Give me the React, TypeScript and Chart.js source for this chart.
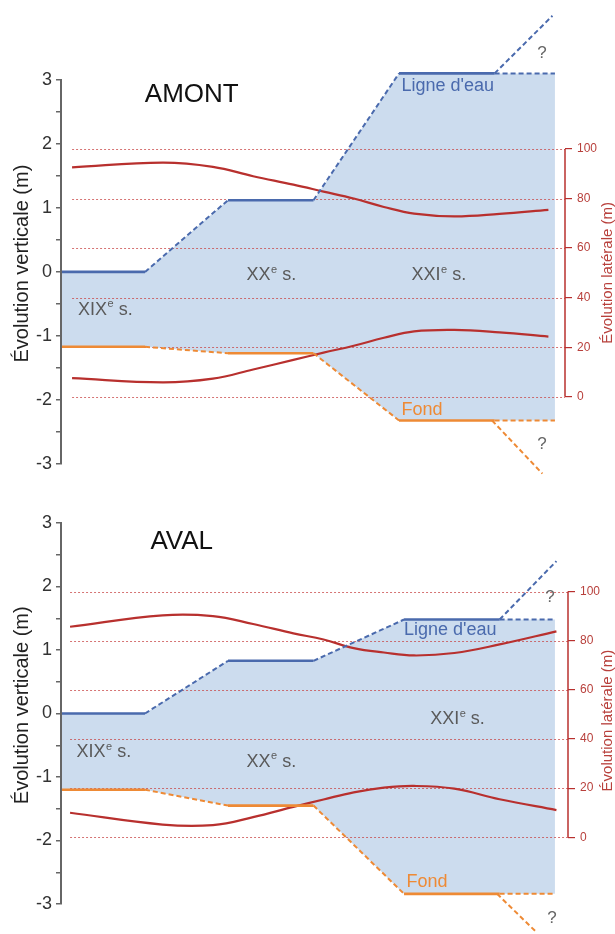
import React, { useEffect, useRef } from 'react';
import { Chart, registerables } from 'chart.js';

Chart.register(...registerables);

// ---------- AMONT ----------
const AMONT_STEP_X = [0, 16.5, 33, 50, 67, 86, 98];
const AMONT_EAU = [0, 0, 1.12, 1.12, 3.1, 3.1, 3.1];
const AMONT_FOND = [-1.17, -1.17, -1.27, -1.27, -2.32, -2.32, -2.32];
const AMONT_EAU_FUTUR_X = [86, 97.5];
const AMONT_EAU_FUTUR = [3.1, 4.0];
const AMONT_FOND_FUTUR_X = [85.5, 95.5];
const AMONT_FOND_FUTUR = [-2.32, -3.15];
const AMONT_RIVE_X = [2, 20, 30, 38, 46, 52, 58, 64, 70, 78, 87, 96.7];
const AMONT_RIVE_HAUT = [92.6, 94.5, 92.8, 89.0, 85.6, 82.8, 80.0, 76.6, 73.9, 72.8, 73.8, 75.4];
const AMONT_RIVE_BAS = [7.5, 5.8, 7.3, 11.0, 14.9, 17.8, 20.6, 23.8, 26.4, 27.0, 26.0, 24.3];

// ---------- AVAL ----------
const AVAL_STEP_X = [0, 16.5, 33, 50, 68, 87, 98];
const AVAL_EAU = [0, 0, 0.83, 0.83, 1.48, 1.48, 1.48];
const AVAL_FOND = [-1.2, -1.2, -1.45, -1.45, -2.84, -2.84, -2.84];
const AVAL_EAU_FUTUR_X = [87, 98.3];
const AVAL_EAU_FUTUR = [1.48, 2.4];
const AVAL_FOND_FUTUR_X = [86.5, 94.4];
const AVAL_FOND_FUTUR = [-2.84, -3.45];
const AVAL_RIVE_X = [1.6, 20, 30, 38, 46, 52, 58, 64, 70, 78, 87, 98.3];
const AVAL_RIVE_HAUT = [85.7, 90.3, 90.0, 86.8, 83.0, 80.5, 77.0, 75.2, 74.0, 75.0, 78.5, 83.8];
const AVAL_RIVE_BAS = [10.0, 5.2, 5.0, 8.2, 12.4, 15.4, 18.3, 20.2, 20.9, 19.8, 15.5, 11.1];

// ---------- axes ----------
const LEFT_TICKS = [-3, -2.5, -2, -1.5, -1, -0.5, 0, 0.5, 1, 1.5, 2, 2.5, 3];
const RIGHT_TICKS = [0, 20, 40, 60, 80, 100];
// right-axis values 0 and 100 sit at these left-axis heights (m)
const RIGHT_ZERO_AT = -1.95;
const RIGHT_HUNDRED_AT = 1.92;

const LEFT_TITLE = 'Évolution verticale (m)';
const RIGHT_TITLE = 'Évolution latérale (m)';

const FONT = "'Liberation Sans', Arial, sans-serif";
const BLUE = '#4a6aad';
const ORANGE = '#ee8a35';
const FILL = '#ccdcee';
const RED = '#b8302e';
const RED_TXT = '#b8403c';
const GRID = 'rgba(200, 70, 70, 0.75)';
const TXT = '#5a5a5a';
const AXIS = '#666666';

type Lbl = {
  t: string;
  sup?: string;
  rest?: string;
  x: number;
  y: number;
  color: string;
  size: number;
  align?: 'left' | 'center';
};

const AMONT_LABELS: Lbl[] = [
  { t: 'AMONT', x: 25.8, y: 2.77, color: '#111', size: 26, align: 'center' },
  { t: 'XIX', sup: 'e', rest: ' s.', x: 3.2, y: -0.59, color: TXT, size: 18 },
  { t: 'XX', sup: 'e', rest: ' s.', x: 36.7, y: -0.05, color: TXT, size: 18 },
  { t: 'XXI', sup: 'e', rest: ' s.', x: 69.5, y: -0.05, color: TXT, size: 18 },
  { t: "Ligne d'eau", x: 67.5, y: 2.9, color: BLUE, size: 18 },
  { t: 'Fond', x: 67.5, y: -2.15, color: ORANGE, size: 18 },
  { t: '?', x: 95.4, y: 3.42, color: '#666', size: 17, align: 'center' },
  { t: '?', x: 95.4, y: -2.7, color: '#666', size: 17, align: 'center' },
];

const AVAL_LABELS: Lbl[] = [
  { t: 'AVAL', x: 23.8, y: 2.71, color: '#111', size: 26, align: 'center' },
  { t: 'XIX', sup: 'e', rest: ' s.', x: 2.9, y: -0.61, color: TXT, size: 18 },
  { t: 'XX', sup: 'e', rest: ' s.', x: 36.7, y: -0.76, color: TXT, size: 18 },
  { t: 'XXI', sup: 'e', rest: ' s.', x: 73.2, y: -0.09, color: TXT, size: 18 },
  { t: "Ligne d'eau", x: 68, y: 1.31, color: BLUE, size: 18 },
  { t: 'Fond', x: 68.5, y: -2.65, color: ORANGE, size: 18 },
  { t: '?', x: 97, y: 1.83, color: '#666', size: 17, align: 'center' },
  { t: '?', x: 97.4, y: -3.23, color: '#666', size: 17, align: 'center' },
];

type Panel = {
  stepX: number[];
  eau: number[];
  fond: number[];
  eauFX: number[];
  eauF: number[];
  fondFX: number[];
  fondF: number[];
  riveX: number[];
  riveHaut: number[];
  riveBas: number[];
  labels: Lbl[];
  xMax: number;
  yMin: number;
  yMax: number;
  padTop: number;
  padBottom: number;
  rightWidth: number;
  rightTitleAt: number;
};

const AMONT: Panel = {
  stepX: AMONT_STEP_X, eau: AMONT_EAU, fond: AMONT_FOND,
  eauFX: AMONT_EAU_FUTUR_X, eauF: AMONT_EAU_FUTUR,
  fondFX: AMONT_FOND_FUTUR_X, fondF: AMONT_FOND_FUTUR,
  riveX: AMONT_RIVE_X, riveHaut: AMONT_RIVE_HAUT, riveBas: AMONT_RIVE_BAS,
  labels: AMONT_LABELS, xMax: 100, yMin: -3, yMax: 3.2, padTop: 67, padBottom: 26, rightWidth: 50, rightTitleAt: 50,
};

const AVAL: Panel = {
  stepX: AVAL_STEP_X, eau: AVAL_EAU, fond: AVAL_FOND,
  eauFX: AVAL_EAU_FUTUR_X, eauF: AVAL_EAU_FUTUR,
  fondFX: AVAL_FOND_FUTUR_X, fondF: AVAL_FOND_FUTUR,
  riveX: AVAL_RIVE_X, riveHaut: AVAL_RIVE_HAUT, riveBas: AVAL_RIVE_BAS,
  labels: AVAL_LABELS, xMax: 100.6, yMin: -3, yMax: 3, padTop: 56, padBottom: 30, rightWidth: 47, rightTitleAt: 47.5,
};

const pts = (xs: number[], ys: number[]) => xs.map((x, i) => ({ x, y: ys[i] }));

const toRight = (leftVal: number) =>
  ((leftVal - RIGHT_ZERO_AT) / (RIGHT_HUNDRED_AT - RIGHT_ZERO_AT)) * 100;

const stepSegment = {
  borderDash: (c: any) => (c.p0DataIndex % 2 === 1 ? [5, 3] : undefined),
  borderWidth: (c: any) => (c.p0DataIndex % 2 === 1 ? 2 : 2.6),
};

function decor(p: Panel) {
  return {
    id: 'decor',
    beforeDatasetsDraw(chart: any) {
      const { ctx, chartArea } = chart;
      const xs = chart.scales.x;
      const y1 = chart.scales.y1;
      ctx.save();
      ctx.strokeStyle = GRID;
      ctx.lineWidth = 1;
      ctx.setLineDash([2, 2]);
      const x0 = xs.getPixelForValue(p.riveX[0]);
      for (const v of RIGHT_TICKS) {
        const py = Math.round(y1.getPixelForValue(v)) + 0.5;
        ctx.beginPath();
        ctx.moveTo(x0, py);
        ctx.lineTo(chartArea.right, py);
        ctx.stroke();
      }
      ctx.restore();
    },
    afterDatasetsDraw(chart: any) {
      const { ctx } = chart;
      const xs = chart.scales.x;
      const ys = chart.scales.y;
      ctx.save();
      ctx.textBaseline = 'middle';
      for (const l of p.labels) {
        ctx.fillStyle = l.color;
        ctx.font = `${l.size}px ${FONT}`;
        let px = xs.getPixelForValue(l.x);
        const py = ys.getPixelForValue(l.y);
        ctx.textAlign = l.align === 'center' ? 'center' : 'left';
        ctx.fillText(l.t, px, py);
        if (l.sup) {
          ctx.textAlign = 'left';
          px += ctx.measureText(l.t).width + 0.5;
          const ss = Math.round(l.size * 0.6);
          ctx.font = `${ss}px ${FONT}`;
          ctx.fillText(l.sup, px, py - l.size * 0.3);
          px += ctx.measureText(l.sup).width;
          ctx.font = `${l.size}px ${FONT}`;
          ctx.fillText(l.rest || '', px, py);
        }
      }
      ctx.restore();
    },
    afterDraw(chart: any) {
      const { ctx, chartArea } = chart;
      const ys = chart.scales.y;
      const y1 = chart.scales.y1;
      ctx.save();
      // left axis line (-3..3 only)
      ctx.strokeStyle = AXIS;
      ctx.lineWidth = 2;
      ctx.beginPath();
      ctx.moveTo(chartArea.left - 1, ys.getPixelForValue(LEFT_TICKS[0]));
      ctx.lineTo(chartArea.left - 1, ys.getPixelForValue(LEFT_TICKS[LEFT_TICKS.length - 1]));
      ctx.stroke();
      // right axis line (0..100 only)
      ctx.strokeStyle = RED;
      ctx.lineWidth = 1.5;
      ctx.beginPath();
      ctx.moveTo(chartArea.right, y1.getPixelForValue(RIGHT_TICKS[0]));
      ctx.lineTo(chartArea.right, y1.getPixelForValue(RIGHT_TICKS[RIGHT_TICKS.length - 1]));
      ctx.stroke();
      // titles
      ctx.textAlign = 'center';
      ctx.textBaseline = 'middle';
      ctx.fillStyle = '#222';
      ctx.font = `20px ${FONT}`;
      ctx.translate(22, ys.getPixelForValue(0.13));
      ctx.rotate(-Math.PI / 2);
      ctx.fillText(LEFT_TITLE, 0, 0);
      ctx.restore();
      ctx.save();
      ctx.textAlign = 'center';
      ctx.textBaseline = 'middle';
      ctx.fillStyle = RED_TXT;
      ctx.font = `15px ${FONT}`;
      ctx.translate(607.5, y1.getPixelForValue(p.rightTitleAt));
      ctx.rotate(-Math.PI / 2);
      ctx.fillText(RIGHT_TITLE, 0, 0);
      ctx.restore();
    },
  };
}

function buildConfig(p: Panel): any {
  return {
    type: 'line',
    data: {
      datasets: [
        // invisible boundaries for the blue fill
        {
          data: pts(p.stepX, p.eau),
          borderWidth: 0,
          borderColor: 'rgba(0,0,0,0)',
          backgroundColor: FILL,
          fill: '+1',
          pointRadius: 0,
          order: 10,
        },
        {
          data: pts(p.stepX, p.fond),
          borderWidth: 0,
          borderColor: 'rgba(0,0,0,0)',
          pointRadius: 0,
          fill: false,
          order: 11,
        },
        {
          data: pts(p.stepX, p.eau),
          borderColor: BLUE,
          pointRadius: 0,
          fill: false,
          segment: stepSegment,
          clip: false,
          order: 1,
        },
        {
          data: pts(p.stepX, p.fond),
          borderColor: ORANGE,
          pointRadius: 0,
          fill: false,
          segment: stepSegment,
          clip: false,
          order: 2,
        },
        {
          data: pts(p.eauFX, p.eauF),
          borderColor: BLUE,
          borderWidth: 2,
          borderDash: [5, 3],
          pointRadius: 0,
          fill: false,
          clip: false,
          order: 3,
        },
        {
          data: pts(p.fondFX, p.fondF),
          borderColor: ORANGE,
          borderWidth: 2,
          borderDash: [5, 3],
          pointRadius: 0,
          fill: false,
          clip: false,
          order: 4,
        },
        {
          data: pts(p.riveX, p.riveHaut),
          yAxisID: 'y1',
          borderColor: RED,
          borderWidth: 2.2,
          pointRadius: 0,
          fill: false,
          tension: 0.4,
          order: 5,
        },
        {
          data: pts(p.riveX, p.riveBas),
          yAxisID: 'y1',
          borderColor: RED,
          borderWidth: 2.2,
          pointRadius: 0,
          fill: false,
          tension: 0.4,
          order: 6,
        },
      ],
    },
    options: {
      responsive: false,
      animation: false,
      layout: { padding: { top: p.padTop, bottom: p.padBottom, left: 0, right: 0 } },
      plugins: {
        legend: { display: false },
        tooltip: { enabled: false },
        filler: { drawTime: 'beforeDatasetsDraw' },
      },
      scales: {
        x: { type: 'linear', display: false, min: 0, max: p.xMax },
        y: {
          position: 'left',
          min: p.yMin,
          max: p.yMax,
          afterFit: (s: any) => { s.width = 62; },
          afterBuildTicks: (s: any) => { s.ticks = LEFT_TICKS.map((v) => ({ value: v })); },
          ticks: {
            autoSkip: false,
            color: '#333',
            padding: 4,
            font: { family: FONT, size: 18 },
            callback: (v: any) => (Number.isInteger(Number(v)) ? String(v) : ''),
          },
          grid: { drawOnChartArea: false, drawTicks: true, tickLength: 6, color: AXIS, lineWidth: 1.5 },
          border: { display: false },
        },
        y1: {
          position: 'right',
          min: toRight(p.yMin),
          max: toRight(p.yMax),
          afterFit: (s: any) => { s.width = p.rightWidth; },
          afterBuildTicks: (s: any) => { s.ticks = RIGHT_TICKS.map((v) => ({ value: v })); },
          ticks: {
            autoSkip: false,
            color: RED_TXT,
            padding: 5,
            font: { family: FONT, size: 12 },
          },
          grid: { drawOnChartArea: false, drawTicks: true, tickLength: 7, color: RED, lineWidth: 1.2 },
          border: { display: false },
        },
      },
    },
    plugins: [decor(p)],
  };
}

function ChartPanel({ panel, top, height }: { panel: Panel; top: number; height: number }) {
  const ref = useRef<HTMLCanvasElement>(null);
  useEffect(() => {
    const chart = new Chart(ref.current as HTMLCanvasElement, buildConfig(panel));
    return () => chart.destroy();
  }, [panel]);
  return (
    <canvas
      ref={ref}
      width={615}
      height={height}
      style={{ position: 'absolute', left: 0, top, width: 615, height, display: 'block' }}
    />
  );
}

export default function App() {
  return (
    <div style={{ position: 'absolute', left: 0, top: 0, width: 615, height: 934, background: '#fff', overflow: 'hidden' }}>
      <ChartPanel panel={AMONT} top={0} height={490} />
      <ChartPanel panel={AVAL} top={467} height={467} />
    </div>
  );
}
